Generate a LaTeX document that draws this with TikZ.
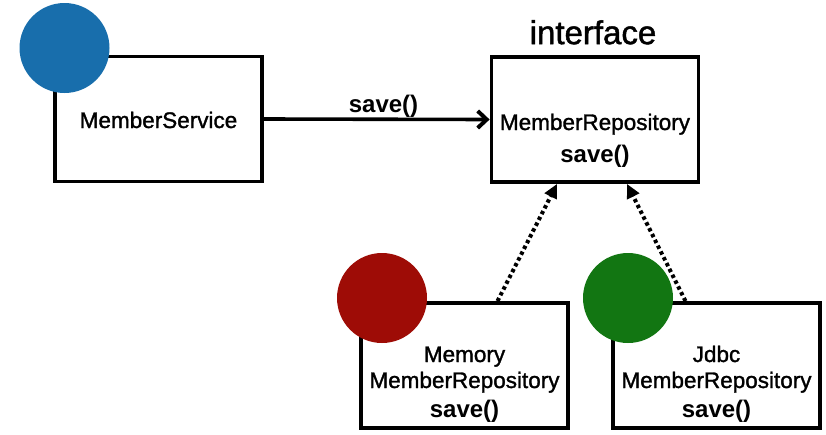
\documentclass[tikz,border=0pt]{standalone}
\usepackage{fontspec}
\setmainfont{Liberation Sans}
\newfontfamily\medfont[FakeBold=1.4]{Liberation Sans}
\usetikzlibrary{arrows.meta, positioning}

\definecolor{svcblue}{RGB}{24,110,172}
\definecolor{memred}{RGB}{158,12,6}
\definecolor{jdbcgreen}{RGB}{18,118,18}

\begin{document}
\begin{tikzpicture}[
    x=1pt, y=-1pt,
    box/.style={draw, rectangle, line width=3.8pt, fill=white,
                minimum width=207pt, minimum height=125pt, inner sep=0pt},
    dot/.style={circle, minimum size=90pt, inner sep=0pt},
    cls/.style={font=\medfont\fontsize{22.5}{28}\selectfont, anchor=base, inner sep=0pt},
    method/.style={font=\fontsize{24}{28}\selectfont\bfseries, anchor=base, inner sep=0pt},
    call/.style={-{Straight Barb[length=9pt, width=17pt, line width=4pt]}, line width=3.6pt},
    impl/.style={-{Triangle[length=14pt, width=13pt]}, line width=4pt,
                 dash pattern=on 3.5pt off 3pt},
]
\useasboundingbox (0,0) rectangle (826,434);

% ============================================================
% Boxes
% ============================================================
\node[box] (svc)  at (158.5,119) {};
\node[box] (repo) at (595,119.5) {};
\node[box] (mem)  at (464.5,365.5) {};
\node[box] (jdbc) at (716.5,365.5) {};

% ============================================================
% Texts inside the boxes (placed on their baselines)
% ============================================================
\node[cls] (svctext) at ([yshift=-9pt]svc.center) {MemberService};

\node[cls] (repotext) at ([yshift=-10.5pt]repo.center) {MemberRepository};
\node[method] (reposave) at ([yshift=-43pt]repo.center) {save()};

\node[cls] (memtop)  at ([yshift=3.5pt]mem.center) {Memory};
\node[cls] (memtext) at ([yshift=-22.5pt]mem.center) {MemberRepository};
\node[method] (memsave) at ([yshift=-51.5pt]mem.center) {save()};

\node[cls] (jdbctop)  at ([yshift=3.5pt]jdbc.center) {Jdbc};
\node[cls] (jdbctext) at ([yshift=-22.5pt]jdbc.center) {MemberRepository};
\node[method] (jdbcsave) at ([yshift=-51.5pt]jdbc.center) {save()};

\node[font=\medfont\fontsize{33}{36}\selectfont, anchor=base, inner sep=0pt]
    (iface) at ([xshift=-2pt, yshift=11pt]repo.north) {interface};

% ============================================================
% Circles on the corners
% ============================================================
\node[dot, fill=svcblue]   (svcdot)  at (64.5,48) {};
\node[dot, fill=memred]    (memdot)  at (382,298) {};
\node[dot, fill=jdbcgreen] (jdbcdot) at (628,298) {};

% ============================================================
% Connectors
% ============================================================
\draw[call] (svc.east) -- (repo.west)
    node[method, pos=0.53, yshift=7pt] {save()};

\draw[impl] ([xshift=33pt]mem.north) -- ([xshift=-38pt]repo.south);
\draw[impl] ([xshift=-31pt]jdbc.north) -- ([xshift=32pt]repo.south);

\end{tikzpicture}
\end{document}
